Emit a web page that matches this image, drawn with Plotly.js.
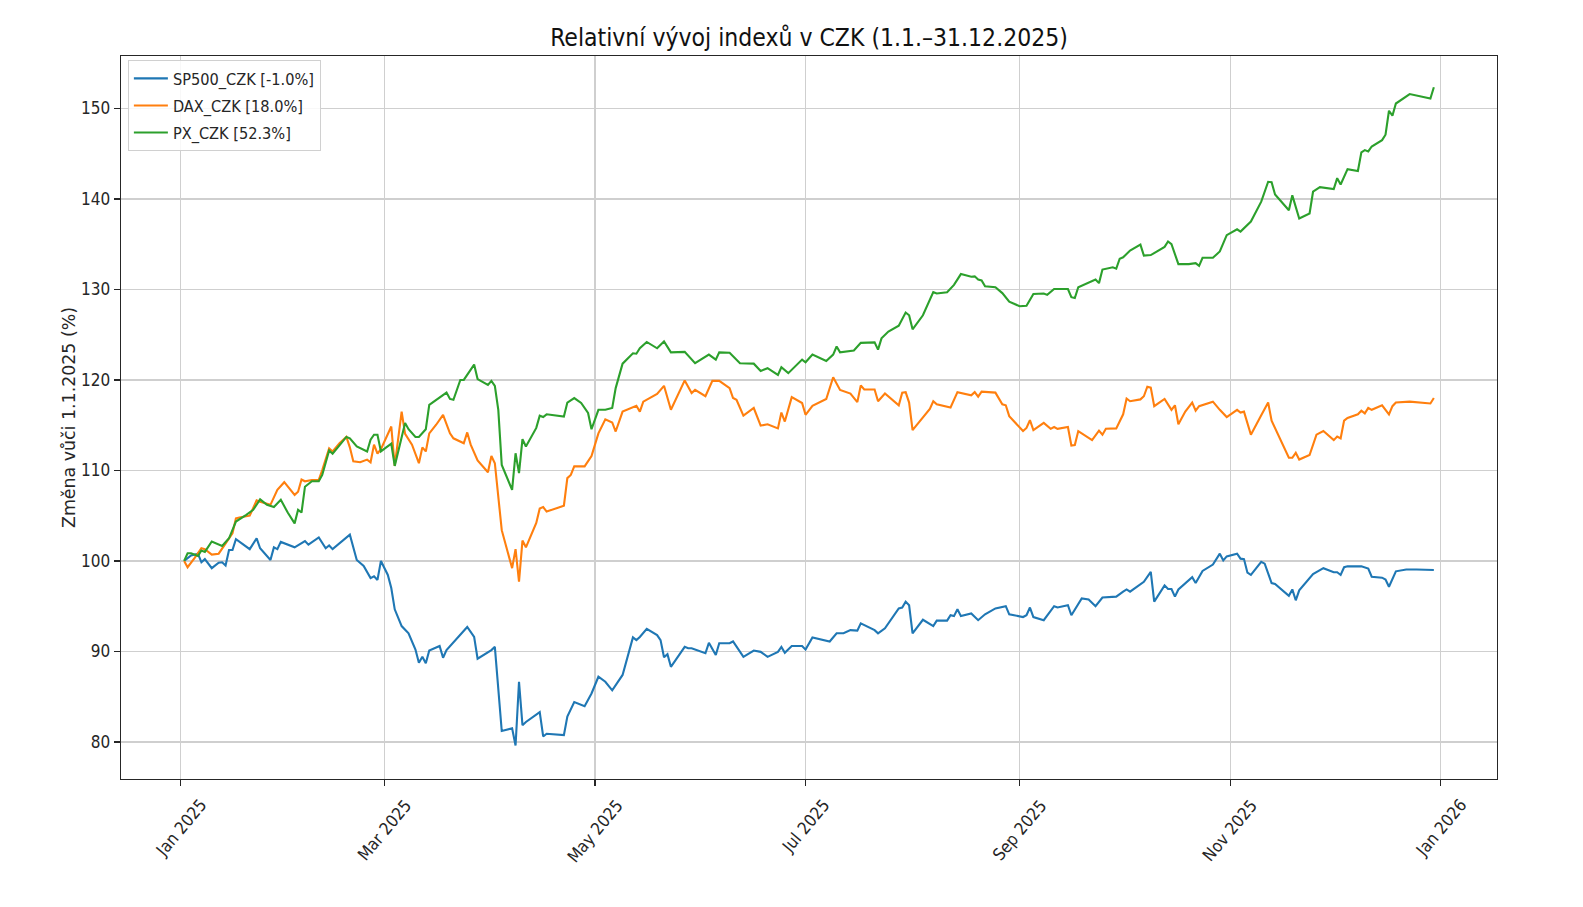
<!DOCTYPE html>
<html><head><meta charset="utf-8">
<script src="https://cdn.plot.ly/plotly-3.0.1.min.js"></script>
<style>html,body{margin:0;padding:0;background:#fff}#chart{width:1583px;height:907px}</style>
</head><body><div id="chart"></div>
<script>
// Day offsets from 1 Jan 2025 and index values (% of 1 Jan 2025)
const spDays = [1,3,5,6,7,9,11,12,13,14,15,16,20,22,23,26,27,28,29,33,36,37,40,42,43,44,49,51,53,55,56,57,58,60,61,62,64,66,68,69,70,71,72,75,76,77,83,85,86,90,91,93,96,97,98,99,100,104,105,106,111,112,114,117,119,121,123,125,128,131,132,133,135,138,139,140,141,142,146,147,148,152,153,155,156,159,160,163,166,168,170,173,174,175,177,180,181,183,188,190,192,194,196,197,201,202,204,208,209,210,211,212,215,218,219,222,223,224,225,226,229,231,233,236,239,240,244,245,246,247,250,253,254,257,258,261,263,265,267,271,273,274,275,278,279,281,282,285,286,287,288,289,293,294,296,299,301,302,303,306,307,308,309,310,313,314,316,317,321,322,323,324,328,331,334,335,336,337,338,342,344,345,348,349,350,352,355,358,363];
const spVals = [100.0,100.6,100.8,99.85,100.2,99.2,99.8,99.85,99.5,101.2,101.2,102.4,101.3,102.5,101.4,100.1,101.5,101.3,102.1,101.5,102.2,101.8,102.6,101.4,101.7,101.3,102.9,100.1,99.45,98.1,98.3,97.9,100.0,98.45,97.0,94.65,92.8,92.0,90.2,88.75,89.4,88.7,90.1,90.6,89.3,90.15,92.7,91.6,89.2,90.15,90.5,81.2,81.5,79.6,86.65,81.85,82.2,83.3,80.6,80.9,80.75,82.8,84.4,83.95,85.35,87.2,86.65,85.7,87.4,91.55,91.25,91.6,92.5,91.8,91.25,89.35,89.7,88.3,90.5,90.35,90.35,89.8,90.95,89.6,90.9,90.9,91.1,89.4,90.1,89.95,89.4,89.95,90.5,89.85,90.6,90.6,90.2,91.55,91.1,92.0,92.0,92.35,92.3,93.1,92.35,92.0,92.55,94.75,94.85,95.5,95.1,92.0,93.5,92.8,93.4,93.4,94.0,93.9,94.65,93.9,94.2,93.45,94.1,94.75,95.0,94.1,93.8,94.0,94.85,93.8,93.45,95.0,94.85,95.1,94.0,95.85,95.75,95.0,95.95,96.05,96.6,96.85,96.6,97.35,97.7,98.8,95.5,97.3,96.9,96.9,96.05,96.85,98.2,97.55,98.9,99.6,100.8,100.05,100.5,100.8,100.25,100.2,98.7,98.45,99.9,99.7,97.55,97.45,96.15,96.85,95.65,96.75,98.55,99.2,98.75,98.75,98.45,99.3,99.4,99.4,99.15,98.25,98.15,97.95,97.15,98.85,99.05,99.05,99.0];

const daxDays = [1,2,4,6,7,9,11,13,15,16,17,20,22,23,26,28,30,33,34,35,36,38,40,41,43,44,46,48,49,50,52,54,55,56,57,58,61,62,64,65,67,69,70,71,72,74,76,78,79,82,83,84,86,89,90,91,93,96,97,98,99,100,103,104,105,106,111,112,113,114,117,119,121,123,125,126,128,132,133,134,138,140,142,146,148,149,152,154,156,159,160,161,163,166,168,170,173,174,175,177,180,181,183,187,189,191,194,196,197,198,201,202,204,208,209,210,211,212,215,217,218,219,223,225,229,230,231,232,236,238,239,240,244,245,246,247,250,252,253,254,257,258,259,260,264,266,267,268,271,273,274,275,278,279,280,281,282,285,287,288,289,291,293,294,295,299,301,303,306,307,308,310,313,315,316,321,322,323,324,327,329,331,334,335,336,337,338,341,342,343,344,345,348,350,351,352,356,362,363];
const daxVals = [100.0,99.3,100.3,101.4,101.3,100.7,100.8,101.95,103.05,104.7,104.8,105.0,106.7,106.55,106.2,107.85,108.7,107.3,107.65,109.0,108.8,108.95,108.95,110.05,112.45,112.1,113.0,113.7,112.55,111.0,110.9,111.2,110.9,112.85,111.85,112.35,114.85,110.5,116.5,114.05,112.85,110.8,112.55,112.1,114.1,115.05,116.15,114.1,113.55,113.0,114.2,112.85,111.1,109.8,111.6,110.8,103.4,99.2,101.3,97.7,102.25,101.5,104.2,105.8,105.95,105.45,106.1,109.15,109.5,110.45,110.45,111.6,114.1,115.65,115.3,114.3,116.5,117.15,116.5,117.6,118.45,119.35,116.7,119.95,118.55,118.9,118.2,119.9,119.9,119.1,118.0,117.8,116.05,116.9,114.95,115.1,114.65,116.4,115.4,118.1,117.45,116.15,117.15,117.9,120.3,118.9,118.5,117.55,119.4,118.95,118.95,117.65,118.5,117.2,118.6,118.65,117.5,114.45,115.8,116.8,117.65,117.3,116.95,118.65,118.3,118.65,118.15,118.7,118.6,117.3,117.2,116.0,114.35,114.7,115.55,114.45,115.25,114.6,114.8,114.6,114.8,112.75,112.8,114.35,113.35,114.4,113.95,114.6,114.65,116.2,117.95,117.65,117.85,118.2,119.25,119.15,117.1,117.9,116.7,117.2,115.1,116.5,117.5,116.6,117.1,117.6,116.7,115.9,116.7,116.4,116.5,113.95,116.1,117.5,115.5,111.4,111.4,111.95,111.2,111.7,113.95,114.35,113.35,113.75,113.55,115.5,115.8,116.2,116.6,116.3,116.9,116.7,117.2,116.2,117.1,117.5,117.6,117.4,118.0];

const pxDays = [1,2,3,5,6,7,9,12,14,16,19,21,23,25,27,29,31,33,34,35,36,38,40,41,43,44,48,49,51,54,55,56,57,58,61,62,65,66,68,69,71,72,77,78,79,81,82,84,85,86,89,90,91,92,93,96,97,98,99,100,103,104,105,106,111,112,114,116,118,119,121,123,125,126,128,131,132,133,135,138,140,142,146,149,153,155,156,159,162,166,168,170,173,174,176,180,181,183,187,189,190,191,195,197,201,202,203,205,208,210,211,212,215,218,219,222,224,226,229,230,231,232,233,236,238,240,243,245,247,250,251,253,257,258,259,260,265,266,267,270,271,272,273,275,278,279,281,285,286,287,289,292,294,295,296,299,301,303,306,307,310,313,315,316,317,321,322,324,327,328,330,334,335,336,338,341,342,343,344,345,348,349,350,351,352,356,362,363];
const pxVals = [100.0,100.85,100.85,100.55,101.15,101.0,102.15,101.65,102.5,104.35,105.1,105.65,106.8,106.2,105.95,106.75,105.35,104.15,105.65,105.35,108.2,108.8,108.8,109.5,112.2,111.85,113.7,113.55,112.65,112.1,113.4,113.95,113.95,112.1,112.95,110.5,115.25,114.55,113.7,113.7,114.55,117.25,118.6,117.9,117.8,120.0,120.0,121.2,121.7,120.1,119.45,119.9,119.35,116.7,110.6,107.85,111.9,109.7,113.45,112.65,114.7,116.05,115.9,116.2,115.95,117.5,118.0,117.45,116.35,114.55,116.7,116.7,116.9,119.1,121.8,122.95,122.9,123.5,124.2,123.5,124.25,123.05,123.1,121.85,122.8,122.25,123.05,123.0,121.85,121.8,121.0,121.3,120.55,121.4,120.75,122.25,121.95,122.8,122.1,122.8,123.7,123.05,123.25,124.1,124.15,123.35,124.6,125.35,126.0,127.45,127.15,125.6,127.15,129.7,129.55,129.7,130.5,131.7,131.4,131.45,131.1,131.0,130.35,130.25,129.6,128.65,128.15,128.2,129.5,129.55,129.4,130.05,130.05,129.15,129.05,130.25,131.1,130.7,132.2,132.45,132.3,133.4,133.55,134.3,134.95,133.75,133.8,134.7,135.3,135.0,132.8,132.8,132.9,132.6,133.5,133.5,134.2,136.0,136.65,136.4,137.5,139.7,141.9,141.85,140.5,138.75,140.4,137.85,138.4,140.8,141.3,141.1,142.3,141.6,143.3,143.1,145.15,145.4,145.25,145.8,146.5,147.1,149.75,149.2,150.55,151.6,151.1,152.35];

const seriesNames = ['SP500_CZK [-1.0%]', 'DAX_CZK [18.0%]', 'PX_CZK [52.3%]'];
const seriesColors = ['#1f77b4', '#ff7f0e', '#2ca02c'];
const tickDates = ['2025-01-01','2025-03-01','2025-05-01','2025-07-01','2025-09-01','2025-11-01','2026-01-01'];
const tickLabels = ['Jan 2025','Mar 2025','May 2025','Jul 2025','Sep 2025','Nov 2025','Jan 2026'];
const yTicks = [80, 90, 100, 110, 120, 130, 140, 150];

function dayToDate(d) {
  return new Date(Date.UTC(2025, 0, 1) + d * 86400000).toISOString().slice(0, 10);
}

const FONT_H = "'DejaVu Sans Condensed', 'DejaVu Sans', sans-serif";
const FONT_V = "'DejaVu Sans', sans-serif";
const INK = '#262626';

const allDays = [spDays, daxDays, pxDays];
const allVals = [spVals, daxVals, pxVals];
const traces = allDays.map((days, i) => ({
  type: 'scatter', mode: 'lines',
  x: days.map(dayToDate), y: allVals[i],
  name: seriesNames[i], legendgroup: 'g' + i,
  line: {color: seriesColors[i], width: 2.1}
}));

const annotations = tickDates.map((d, i) => ({
  x: d, xref: 'x', y: -0.019, yref: 'paper',
  text: tickLabels[i], showarrow: false, textangle: -50,
  xanchor: 'center', yanchor: 'top',
  font: {family: FONT_H, size: 17, color: INK}
}));

const layout = {
  width: 1583, height: 907,
  margin: {l: 121, r: 86, t: 56, b: 128},
  paper_bgcolor: '#fff', plot_bgcolor: '#fff',
  font: {family: FONT_H, color: INK},
  title: {text: 'Relativní vývoj indexů v CZK (1.1.–31.12.2025)', x: 0.5, xref: 'paper',
          y: 1 - 37.5 / 907, yref: 'container', yanchor: 'middle',
          font: {family: FONT_H, size: 24.5, color: '#111'}},
  xaxis: {type: 'date', range: ['2024-12-14 17:00', '2026-01-17 07:00'],
          tickmode: 'array', tickvals: tickDates, ticktext: tickLabels, showticklabels: false,
          ticks: 'outside', ticklen: 6, tickwidth: 1.2, tickcolor: INK,
          showgrid: true, gridcolor: '#cfcfcf', gridwidth: 1.3,
          showline: true, mirror: true, linecolor: INK, linewidth: 1.3, zeroline: false},
  yaxis: {range: [75.9, 155.8], tickmode: 'array', tickvals: yTicks,
          ticks: 'outside', ticklen: 6, tickwidth: 1.2, tickcolor: INK,
          tickfont: {family: FONT_H, size: 17, color: INK},
          showgrid: true, gridcolor: '#cfcfcf', gridwidth: 1.3,
          showline: true, mirror: true, linecolor: INK, linewidth: 1.3, zeroline: false,
          title: {text: 'Změna vůči 1.1.2025 (%)', standoff: 1,
                  font: {family: FONT_V, size: 17.4, color: INK}}},
  shapes: [{type: 'line', xref: 'paper', x0: 0, x1: 1, yref: 'y', y0: 100, y1: 100,
            layer: 'between', line: {color: '#8c8c8c', width: 1.4, dash: 'dash'}}],
  annotations: annotations,
  showlegend: true,
  legend: {x: 0.005, y: 0.994, xanchor: 'left', yanchor: 'top',
           bgcolor: 'rgba(255,255,255,0.85)', bordercolor: '#d0d0d0', borderwidth: 1,
           font: {family: FONT_H, size: 16.2, color: INK}, tracegroupgap: 3,
           itemwidth: 34}
};

Plotly.newPlot('chart', traces, layout, {displayModeBar: false, staticPlot: true});
</script>
</body></html>
